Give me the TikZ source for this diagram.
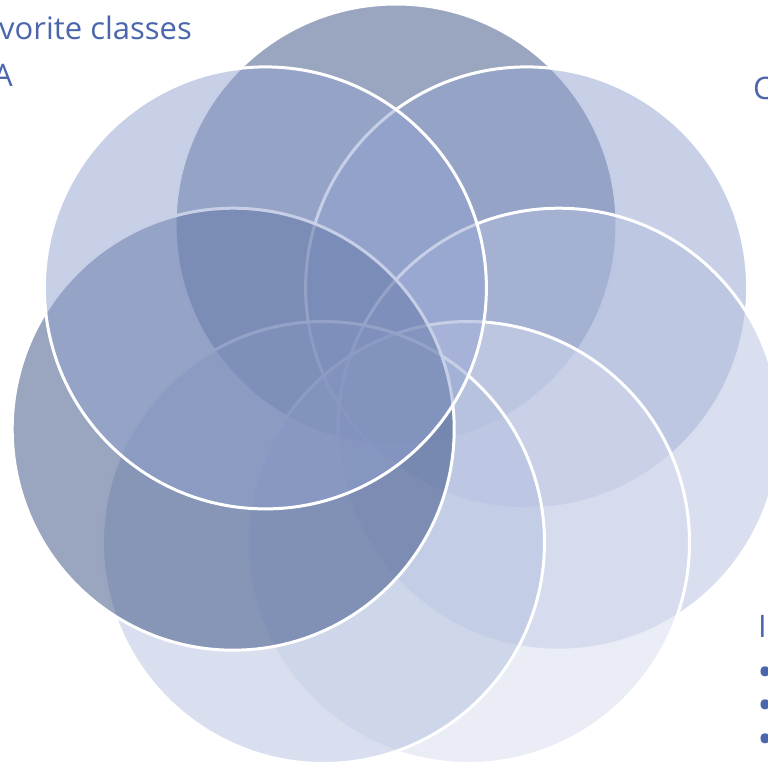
\documentclass[tikz,border=0pt]{standalone}
\usepackage{fontspec}
\setmainfont{Open Sans}
\usepackage{tikz}
\usetikzlibrary{positioning}

\definecolor{txtblue}{RGB}{74,102,172}
\definecolor{slateA}{RGB}{53,77,129}
\definecolor{blueB}{RGB}{145,161,207}
\definecolor{blueC}{RGB}{179,191,223}
\definecolor{blueD}{RGB}{213,219,237}

\begin{document}
\begin{tikzpicture}[x=1pt, y=-1pt,
    petal/.style={circle, draw=white, line width=3pt, fill opacity=0.5, minimum size=442pt, inner sep=0pt},
    slidetext/.style={text=txtblue, font=\fontsize{31}{37}\selectfont, inner sep=0pt, anchor=base west},
    bulletdot/.style={slidetext, font=\fontsize{32}{32}\selectfont\bfseries, anchor=west}]
    \clip (0,0) rectangle (768,765);

    % seven overlapping circles, clockwise from the top
    \node (Top) [petal, fill=slateA] at (396,225) {};
    \node (TopRight) [petal, fill=blueB] at (526.6,287.9) {};
    \node (Right) [petal, fill=blueC] at (558.8,429.2) {};
    \node (LowRight) [petal, fill=blueD] at (468.5,542.5) {};
    \node (LowLeft) [petal, fill=blueC] at (323.5,542.5) {};
    \node (Left) [petal, fill=slateA] at (233.2,429.2) {};
    \node (TopLeft) [petal, fill=blueB] at (265.4,287.9) {};

    % text cut off at the edges
    \node (Title) [slidetext] at (-1,40) {vorite classes};
    \node (ItemA) [slidetext] at (-7,87) {A};
    \node (ItemC) [slidetext] at (753,100) {C};
    \node (ItemI) [slidetext] at (758,637) {I};
    \node (Dot1) [bulletdot] at (759,675) {•};
    \node (Dot2) [bulletdot] at (759,708) {•};
    \node (Dot3) [bulletdot] at (759,742) {•};
\end{tikzpicture}
\end{document}
